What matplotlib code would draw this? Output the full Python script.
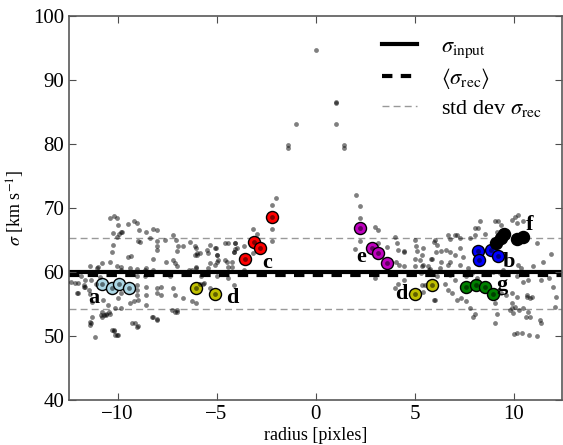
import numpy as np
import matplotlib
matplotlib.use('Agg')
import matplotlib.pyplot as plt

plt.rcParams['font.family'] = ['Liberation Serif', 'DejaVu Serif']
plt.rcParams['mathtext.fontset'] = 'stix'

# sigma values
sigma_input = 60.0
sigma_rec_mean = 59.6
sigma_rec_hi = 65.3
sigma_rec_lo = 54.2

# gray points: radius, sigma
gray_r = [
    0.0, 1.03, 1.05, -0.98, 1.03, -1.38, -1.38, 1.45, 1.45, -1.99, 2.02,
    -2.2, -2.21, -2.2, -2.2, -3.15, -2.98, -3.13, -2.81, -3.57, -3.6, -3.15, -3.6, -3.99, -4.07,
    -4.1, -4.41, -4.46, -4.2, -4.44, -4.2, -4.44, -4.1, -5.0, -4.93, -5.0, -5.05, -5.34, -5.34,
    -5.09, -5.42, -5.64, -6.05, -5.09, -5.34, -5.84, -5.79, -6.26, -6.05, -6.35, -6.05, -5.81,
    -6.01, -6.05, -6.26, -4.55, -4.55,
    2.24, 2.24, 2.24, 2.24, 2.0, 3.01, 3.18, 3.15, 2.83, 3.16, 3.6, 3.6, 4.0, 4.1, 4.14, 4.47,
    4.06, 4.23, 4.47, 3.01, 4.19, 4.02, 4.47, 5.0, 5.0, 5.07, 5.1, 5.4, 5.02, 5.02, 5.4, 5.82,
    5.74, 5.99, 5.37, 5.9, 5.99,
    8.21, 8.26, 8.85, 9.22, 7.59, 8.08, 8.55, 8.94, 9.1, 9.35, 9.5, 10.2, 10.5,
    4.45, 5.43, 5.27, 5.43, 6.11, 6.07, 6.36, 5.86, 6.33, 5.69, 5.77, 6.28, 6.7, 6.78, 7.12,
    6.61, 6.78, 7.03, 6.78, 6.7, 7.29, 7.29, 7.45, 7.29, 7.71, 7.79, 8.05, 8.21, 8.3, 8.05,
    8.55, 9.05, 9.22, 9.39, 9.14, 9.9, 10.07, 10.23, 10.15, 10.48, 11.16, 10.99, 10.23, 10.4,
    11.41, 10.74, 10.48,
    4.93, 5.35, 5.77, 6.11, 5.52, 5.43, 6.03, 6.61, 6.78, 7.03, 6.53, 6.7, 6.87, 7.12, 7.37,
    7.62, 7.79, 8.05, 7.96, 7.62, 7.88, 8.13, 8.97, 9.3, 9.47, 9.05, 9.14, 9.05, 9.39, 9.64,
    9.9, 9.9, 10.07, 9.81, 10.15, 10.66, 10.91, 10.48, 10.74, 10.82, 11.33, 11.41, 12.0, 12.17,
    10.15, 10.02, 10.18, 10.43, 10.77, 11.19, 10.66, 10.82, 9.9, 9.98, 10.3, 10.65, 11.5, 11.8,
    11.9, 12.1, 6.04, 7.03,
    -10.38, -10.18, -10.05, -10.0, -9.8, -10.02, -9.46, -9.18, -9.04, -8.92, -8.99, -8.87,
    -10.22, -10.3, -8.54, -8.23, -8.03, -8.03, -8.03, -8.03, -8.37, -7.61, -7.19, -7.06, -6.94,
    -7.02, -6.69, -7.22, -7.1, -8.2, -8.57, -8.23, -9.47, -9.3, -9.38, -9.3, -9.8, -9.8, -10.8,
    -11.03, -11.4, -10.4, -10.02, -9.0, -8.62, -7.02, -7.56, -6.1, -6.1, -6.0, -6.4, -6.06, -5.5,
    -5.42, -5.09, -5.0, -5.0, -4.08, -4.08, -4.1, -10.22, -9.93, -9.77,
    -11.65, -11.35, -11.07, -12.07, -11.65, -11.31, -10.73, -10.47, -10.81, -10.56, -9.8, -9.97,
    -10.14, -9.8, -9.38, -9.18, -9.0, -9.03, -9.0, -8.97, -8.54, -8.54, -8.54, -8.03, -7.78,
    -8.03, -7.78, -8.62, -9.04, -7.19, -7.1, -7.36, -6.69, -7.1, -7.02, -8.2, -8.03, -9.13,
    -8.96, -11.3, -11.35, -5.68,
    -12.35, -12.02, -12.0, -11.7, -11.45, -11.37, -10.9, -11.4, -11.4, -10.8, -10.6, -10.4,
    -11.15, -10.14, -10.05, -10.3, -10.19, -10.98, -11.85, -12.13, -11.7, -10.78, -10.7, -10.44,
    -10.2, -10.0, -9.26, -9.0, -8.25, -8.0, -7.24, -6.99,
    -10.78, -10.27, -9.93, -9.43,
]
gray_s = [
    94.7, 86.6, 86.4, 83.2, 83.2, 79.9, 79.4, 79.9, 79.4, 71.6, 72.0,
    70.4, 68.6, 66.7, 64.9, 66.7, 66.0, 64.7, 63.7, 62.1, 64.1, 62.9, 60.3, 63.7, 64.5,
    63.1, 64.5, 61.6, 61.6, 60.8, 60.8, 59.0, 58.0, 59.3, 61.8, 62.7, 63.7, 64.2, 61.4,
    61.1, 60.6, 58.3, 57.5, 56.6, 57.5, 58.2, 59.3, 55.4, 55.1, 64.7, 63.8, 62.9,
    62.7, 60.8, 60.3, 64.6, 61.9,
    70.3, 68.5, 66.8, 64.9, 63.6, 67.1, 66.6, 64.6, 63.7, 62.9, 61.4, 63.9, 65.5, 64.6, 63.5, 63.2,
    61.5, 61.1, 60.9, 59.0, 58.2, 57.5, 58.8, 56.5, 65.0, 64.0, 63.3, 62.7, 62.0, 60.9, 60.9, 62.1,
    60.3, 64.7, 58.0, 57.9, 55.6,
    63.3, 61.9, 63.5, 62.5, 57.6, 58.0, 57.6, 56.6, 64.6, 65.3, 65.9, 65.2, 65.5,
    63.3, 63.7, 61.9, 61.1, 64.2, 63.2, 63.3, 62.1, 61.6, 60.9, 60.4, 60.6, 65.8, 65.1, 65.8,
    63.4, 63.2, 62.7, 61.5, 61.1, 65.3, 63.7, 62.4, 61.1, 60.7, 65.3, 66.8, 66.8, 67.9, 65.8,
    66.0, 67.9, 68.0, 67.3, 66.3, 68.1, 68.6, 68.9, 67.6, 67.9, 64.5, 60.9, 61.1, 60.7,
    58.75, 58.75, 58.5,
    60.0, 59.8, 59.8, 59.4, 58.0, 56.9, 55.6, 60.0, 59.5, 58.75, 58.2, 57.2, 56.7, 55.6, 55.9,
    55.4, 54.3, 53.5, 53.0, 59.3, 59.8, 59.0, 60.0, 59.8, 60.3, 55.1, 53.5, 52.0, 56.7, 56.4,
    56.7, 55.1, 54.6, 54.1, 56.1, 56.4, 56.1, 54.3, 53.8, 53.0, 52.5, 52.0, 57.7, 56.1,
    59.3, 50.3, 50.4, 50.4, 50.2, 50.0, 56.1, 55.9, 54.3, 53.6, 54.1, 53.0, 61.5, 59.0,
    62.8, 54.5, 65.0, 65.8,
    68.4, 68.8, 68.4, 67.3, 66.2, 65.5, 67.5, 67.9, 67.7, 66.6, 64.9, 64.7,
    64.2, 63.2, 66.2, 66.7, 66.6, 64.8, 64.1, 63.4, 65.3, 65.0, 65.8, 65.0, 64.0,
    63.3, 64.0, 61.9, 61.4, 62.0, 60.7, 60.3, 62.3, 62.5, 60.7, 60.0, 60.8, 60.3, 61.4,
    60.6, 60.9, 61.6, 60.9, 60.4, 60.3, 60.9, 61.5, 64.0, 62.7, 62.9, 60.3, 60.7, 63.4,
    63.0, 63.7, 62.7, 61.6, 64.6, 63.6, 63.2, 66.1, 66.0, 66.3,
    58.7, 58.7, 58.2, 56.7, 57.7, 55.3, 55.6, 54.8, 53.3, 53.3, 56.7, 55.9,
    54.3, 54.4, 55.1, 55.4, 58.0, 57.2, 56.4, 55.6, 57.7, 56.4, 54.8, 57.5, 57.7,
    56.7, 56.4, 59.3, 59.3, 57.5, 56.4, 59.3, 55.9, 53.8, 53.8, 53.0, 52.6, 52.0,
    51.5, 53.0, 52.0, 58.2,
    58.5, 58.3, 56.7, 57.7, 57.2, 56.5, 59.2, 52.2, 51.7, 53.8, 53.5, 53.5,
    49.9, 50.2, 50.1, 51.0, 50.8, 60.8, 59.3, 58.3, 58.0, 53.0, 53.3, 53.8,
    50.9, 50.2, 52.0, 51.4, 52.9, 52.5, 54.1, 54.1,
    58.2, 57.5, 58.2, 57.5,
]

# highlighted groups
groups = ['a', 'b', 'c', 'd', 'e', 'f', 'g']
group_colors = ['lightblue', 'b', 'r', 'y', 'm', 'k', 'g']
group_r = [
    [-10.78, -10.27, -9.93, -9.43],
    [8.21, 8.26, 8.85, 9.22],
    [-3.57, -3.13, -2.81, -2.21],
    [-6.05, -5.09, 5.0, 5.9],
    [2.24, 2.83, 3.16, 3.6],
    [9.1, 9.35, 9.5, 10.2, 10.5],
    [7.59, 8.08, 8.55, 8.94],
]
group_s = [
    [58.2, 57.5, 58.2, 57.5],
    [63.3, 61.9, 63.5, 62.5],
    [62.1, 64.7, 63.7, 68.6],
    [57.5, 56.6, 56.5, 57.9],
    [66.8, 63.7, 62.9, 61.4],
    [64.6, 65.3, 65.9, 65.2, 65.5],
    [57.6, 58.0, 57.6, 56.6],
]
# label positions
label_text = ['a', 'b', 'c', 'd', 'd', 'e', 'f', 'g']
label_r = [-11.2, 9.78, -2.44, -4.2, 4.31, 2.32, 10.79, 9.4]
label_s = [55.9, 61.6, 61.4, 55.9, 56.5, 62.4, 67.3, 58.0]

fig = plt.figure(figsize=(5.63, 4.45), dpi=100)
ax = fig.add_axes([0.1226, 0.1011, 0.8757, 0.863])

ax.axhline(sigma_input, color='k', lw=3, label=r'$\sigma_{\rm input}$', zorder=1)
ax.axhline(sigma_rec_mean, color='k', lw=3, ls='--', dashes=(2.5, 2),
           label=r'$\langle\sigma_{\rm rec}\rangle$', zorder=1)
ax.axhline(sigma_rec_hi, color='0.6', lw=1, ls='--', dashes=(5, 3),
           label=r'std dev $\sigma_{\rm rec}$', zorder=1)
ax.axhline(sigma_rec_lo, color='0.6', lw=1, ls='--', dashes=(5, 3), zorder=1)

for c, rr, ss in zip(group_colors, group_r, group_s):
    ax.scatter(rr, ss, s=75, c=c, edgecolors='k', linewidths=1, zorder=2)

ax.scatter(gray_r, gray_s, s=12, c='k', alpha=0.5, linewidths=0, zorder=3)

for t, x, y in zip(label_text, label_r, label_s):
    ax.text(x, y, t, fontsize=16, fontweight='bold', ha='center', va='center', zorder=4)

ax.set_xlim(-12.45, 12.45)
ax.set_ylim(40, 100)
ax.set_xticks([-10, -5, 0, 5, 10])
ax.set_yticks([40, 50, 60, 70, 80, 90, 100])
ax.tick_params(direction='in', top=True, right=True, labelsize=15, length=5, color='0.3')
for sp in ax.spines.values():
    sp.set_color('0.35')
    sp.set_linewidth(1.2)
ax.set_xlabel('radius [pixles]', fontsize=13, labelpad=2)
ax.set_ylabel(r'$\sigma$ [km s$^{-1}$]', fontsize=13)

ax.legend(loc='upper right', frameon=False, fontsize=16, handlelength=1.55,
          handletextpad=1.1, labelspacing=0.3, borderaxespad=0.5)

fig.savefig('out.png', dpi=100)
